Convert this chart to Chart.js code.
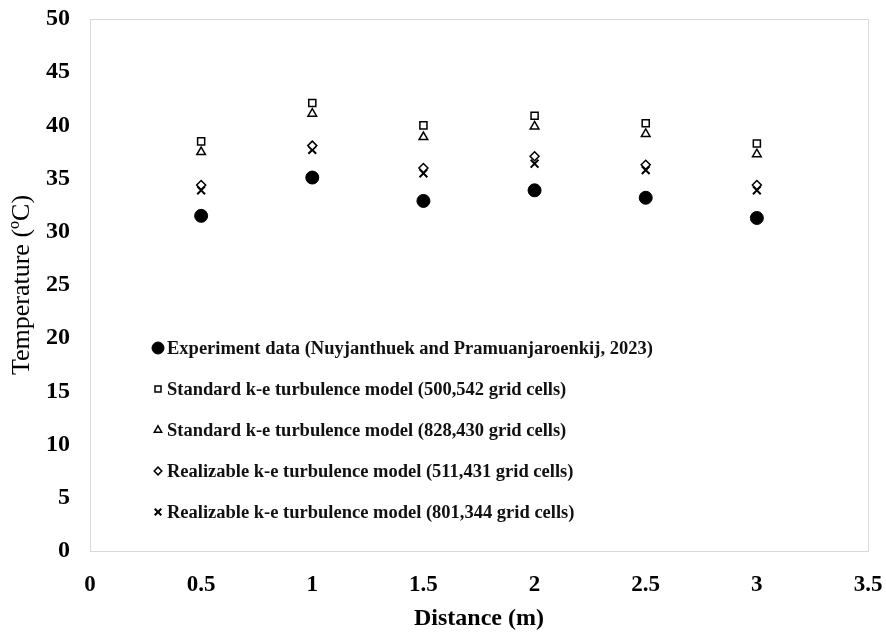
<!DOCTYPE html>
<html>
<head>
<meta charset="utf-8">
<script src="https://cdn.jsdelivr.net/npm/chart.js@4"></script>
<style>
  body { margin: 0; background: #fff; }
  #chart { display: block; }
</style>
</head>
<body>
<canvas id="chart" width="886" height="634"></canvas>
<script>
// Data
const distances = [0.5, 1, 1.5, 2, 2.5, 3];
const experiment = [31.5, 35.1, 32.9, 33.9, 33.2, 31.3];
const standard500k = [38.5, 42.1, 40.0, 40.9, 40.2, 38.3];
const standard828k = [37.5, 41.1, 38.9, 39.9, 39.2, 37.3];
const realizable511k = [34.4, 38.1, 36.0, 37.1, 36.3, 34.4];
const realizable801k = [33.9, 37.7, 35.5, 36.4, 35.8, 33.9];

const seriesLabels = [
    'Experiment data (Nuyjanthuek and Pramuanjaroenkij, 2023)',
    'Standard k-e turbulence model (500,542 grid cells)',
    'Standard k-e turbulence model (828,430 grid cells)',
    'Realizable k-e turbulence model (511,431 grid cells)',
    'Realizable k-e turbulence model (801,344 grid cells)'
];

const FONT = '"Liberation Serif", "Times New Roman", serif';

function toPoints(values) {
    return distances.map((d, i) => ({ x: d, y: values[i] }));
}

const datasets = [
    { label: seriesLabels[0], data: toPoints(experiment), pointStyle: 'circle', pointRadius: 6.5,
      backgroundColor: '#000', borderColor: '#000', borderWidth: 1 },
    { label: seriesLabels[1], data: toPoints(standard500k), pointStyle: 'rect', pointRadius: 5,
      backgroundColor: '#fff', borderColor: '#000', borderWidth: 1.5 },
    { label: seriesLabels[2], data: toPoints(standard828k), pointStyle: 'triangle', pointRadius: 5,
      backgroundColor: '#fff', borderColor: '#000', borderWidth: 1.5 },
    { label: seriesLabels[3], data: toPoints(realizable511k), pointStyle: 'rectRot', pointRadius: 4.5,
      backgroundColor: '#fff', borderColor: '#000', borderWidth: 1.5 },
    { label: seriesLabels[4], data: toPoints(realizable801k), pointStyle: 'crossRot', pointRadius: 5.5,
      backgroundColor: '#000', borderColor: '#000', borderWidth: 2 }
];

// light grey frame round the plot area
const framePlugin = {
    id: 'frame',
    beforeDatasetsDraw(chart) {
        const { ctx, chartArea: a } = chart;
        ctx.save();
        ctx.strokeStyle = '#d9d9d9';
        ctx.lineWidth = 1;
        ctx.strokeRect(a.left + 0.5, a.top + 0.5, a.right - a.left, a.bottom - a.top);
        ctx.restore();
    }
};

// legend drawn inside the plot, lower left
const insideLegend = {
    id: 'insideLegend',
    afterDraw(chart) {
        const ctx = chart.ctx;
        const rowsY = [348, 389, 430, 471, 512];
        ctx.save();
        ctx.font = 'bold 18.5px ' + FONT;
        ctx.textBaseline = 'middle';
        chart.data.datasets.forEach((ds, i) => {
            const y = rowsY[i];
            ctx.fillStyle = ds.backgroundColor;
            ctx.strokeStyle = ds.borderColor;
            ctx.lineWidth = ds.borderWidth;
            Chart.helpers.drawPoint(ctx, {
                pointStyle: ds.pointStyle,
                radius: i === 0 ? 6 : ds.pointRadius * 0.85,
                rotation: 0,
                borderWidth: ds.borderWidth
            }, 158, y);
            ctx.fillStyle = '#111';
            ctx.fillText(ds.label, 167, y + 1);
        });
        ctx.restore();
    }
};

new Chart(document.getElementById('chart'), {
    type: 'scatter',
    data: { datasets: datasets },
    options: {
        responsive: false,
        devicePixelRatio: 1,
        animation: false,
        layout: { padding: { top: 19, right: 18, left: 0, bottom: 0 } },
        plugins: {
            legend: { display: false },
            tooltip: { enabled: false }
        },
        scales: {
            x: {
                type: 'linear',
                min: 0,
                max: 3.5,
                grid: { display: false },
                border: { display: false },
                ticks: {
                    stepSize: 0.5,
                    color: '#000',
                    padding: 12,
                    font: { family: FONT, size: 23, weight: 'bold' },
                    callback: (v) => String(v)
                },
                title: {
                    display: true,
                    text: 'Distance (m)',
                    color: '#000',
                    padding: { top: 0, bottom: 1 },
                    font: { family: FONT, size: 24, weight: 'bold' }
                },
                afterFit(scale) {
                    scale.height = 83;
                    scale.paddingLeft = 0;
                    scale.paddingRight = 0;
                }
            },
            y: {
                min: 0,
                max: 50,
                grid: { display: false },
                border: { display: false },
                ticks: {
                    stepSize: 5,
                    color: '#000',
                    padding: 12,
                    font: { family: FONT, size: 24, weight: 'bold' }
                },
                title: {
                    display: true,
                    text: 'Temperature (ºC)',
                    color: '#000',
                    padding: { top: 7, bottom: 0 },
                    font: { family: FONT, size: 26, weight: 'normal' }
                },
                afterFit(scale) {
                    scale.width = 90;
                    scale.paddingTop = 0;
                    scale.paddingBottom = 0;
                }
            }
        }
    },
    plugins: [framePlugin, insideLegend]
});
</script>
</body>
</html>
